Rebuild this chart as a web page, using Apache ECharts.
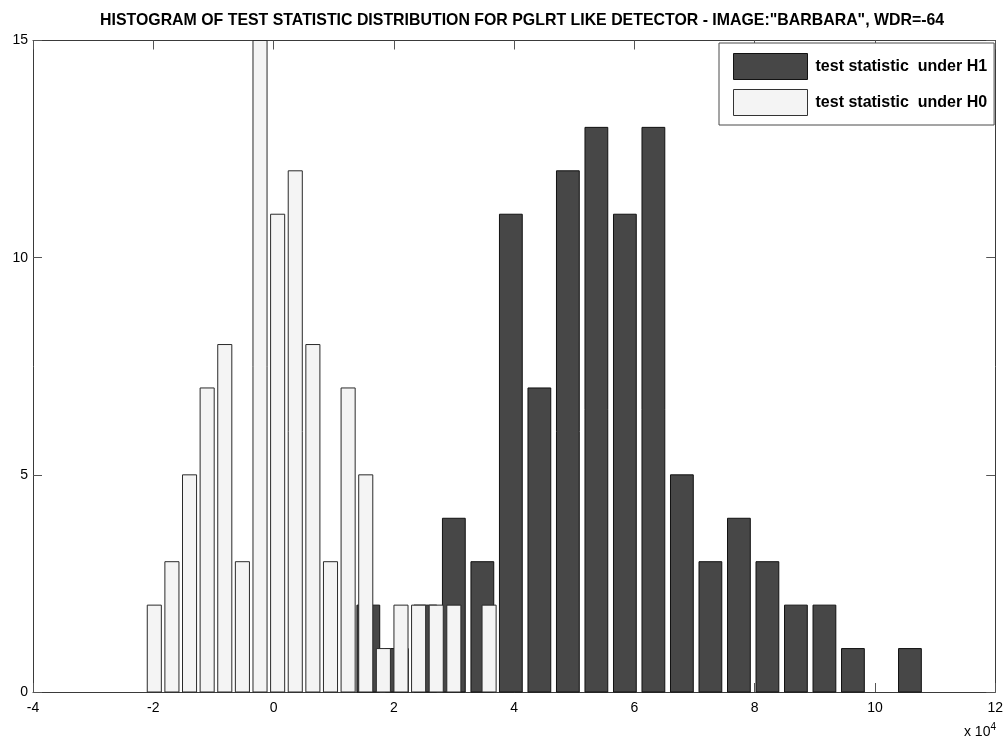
<!DOCTYPE html>
<html>
<head>
<meta charset="utf-8">
<script src="https://cdn.jsdelivr.net/npm/echarts@6/dist/echarts.min.js"></script>
<style>
html,body{margin:0;padding:0;background:#fff;}
#chart{width:1006px;height:740px;}
</style>
</head>
<body>
<div id="chart"></div>
<script>
// ---- data (x in units of 10^4) ----
const titleText = 'HISTOGRAM OF TEST STATISTIC DISTRIBUTION FOR PGLRT LIKE DETECTOR - IMAGE:"BARBARA", WDR=-64';
const seriesNames = ['test statistic  under H1', 'test statistic  under H0'];

const h1Centers = [1.576, 2.050, 2.524, 2.998, 3.472, 3.946, 4.420, 4.894, 5.368, 5.842,
                   6.316, 6.790, 7.264, 7.738, 8.212, 8.686, 9.160, 9.634, 10.108, 10.582];
const h1Counts  = [2, 1, 2, 4, 3, 11, 7, 12, 13, 11,
                   13, 5, 3, 4, 3, 2, 2, 1, 0, 1];

const h0Centers = [-1.983, -1.690, -1.397, -1.104, -0.811, -0.518, -0.225, 0.068, 0.361, 0.654,
                   0.947, 1.240, 1.533, 1.826, 2.119, 2.412, 2.705, 2.998, 3.291, 3.584];
const h0Counts  = [2, 3, 5, 7, 8, 3, 15, 11, 12, 8,
                   3, 7, 5, 1, 2, 2, 2, 2, 0, 2];

const h1BarWidth = 0.379;   // bar width in data units
const h0BarWidth = 0.234;

const xTicks = [-4, 12, 2];  // min, max, interval
const yTicks = [0, 15, 5];

// ---- chart ----
const chart = echarts.init(document.getElementById('chart'), null, {renderer: 'canvas'});

function pairs(cs, vs) { return cs.map((c, i) => [c, vs[i]]); }

function barRenderer(width, fill, stroke) {
  return function (params, api) {
    const c = api.value(0), v = api.value(1);
    if (!v) return null;
    const p0 = api.coord([c - width / 2, 0]);
    const p1 = api.coord([c + width / 2, v]);
    return {
      type: 'rect',
      shape: {x: p0[0], y: p1[1], width: p1[0] - p0[0], height: p0[1] - p1[1]},
      style: {fill: fill, stroke: stroke, lineWidth: 1}
    };
  };
}

const fontFam = '"Liberation Sans", Arial, Helvetica, sans-serif';
const axisColor = '#3a3a3a';

const commonX = {
  type: 'value', min: xTicks[0], max: xTicks[1], interval: xTicks[2],
  splitLine: {show: false},
  axisLine: {show: true, onZero: false, lineStyle: {color: axisColor, width: 1}},
  axisTick: {show: true, inside: true, length: 9, lineStyle: {color: '#555'}}
};
const commonY = {
  type: 'value', min: yTicks[0], max: yTicks[1], interval: yTicks[2],
  splitLine: {show: false},
  axisLine: {show: true, onZero: false, lineStyle: {color: axisColor, width: 1}},
  axisTick: {show: true, inside: true, length: 9, lineStyle: {color: '#555'}}
};

const option = {
  backgroundColor: '#ffffff',
  animation: false,
  grid: {left: 33, right: 9, top: 40.5, bottom: 48, containLabel: false},
  xAxis: [
    Object.assign({}, commonX, {
      position: 'bottom',
      axisLabel: {show: true, color: '#000', fontSize: 14, fontFamily: fontFam, margin: 9}
    }),
    Object.assign({}, commonX, {position: 'top', axisLabel: {show: false}})
  ],
  yAxis: [
    Object.assign({}, commonY, {
      position: 'left',
      axisLabel: {show: true, color: '#000', fontSize: 14, fontFamily: fontFam, margin: 5}
    }),
    Object.assign({}, commonY, {position: 'right', axisLabel: {show: false}})
  ],
  legend: {
    show: true,
    orient: 'vertical',
    left: 719, top: 43,
    padding: [10, 7, 9, 14],
    itemGap: 9,
    itemWidth: 74, itemHeight: 26,
    backgroundColor: '#ffffff',
    borderColor: '#4a4a4a', borderWidth: 1, borderRadius: 0,
    icon: 'rect',
    textStyle: {color: '#000', fontSize: 16, fontWeight: 'bold', fontFamily: fontFam, padding: [0, 0, 0, 3]},
    data: [
      {name: seriesNames[0], icon: 'rect', itemStyle: {color: '#474747', borderColor: '#111', borderWidth: 1}},
      {name: seriesNames[1], icon: 'rect', itemStyle: {color: '#f4f4f4', borderColor: '#333', borderWidth: 1}}
    ]
  },
  graphic: [
    {
      type: 'text', left: 100, top: 13,
      style: {text: titleText, fill: '#000', font: 'bold 15.9px ' + fontFam}
    },
    {
      type: 'text', right: 10, top: 722,
      style: {
        text: 'x 10{sup|4}', fill: '#000', font: '14px ' + fontFam,
        rich: {sup: {fontSize: 10, fontFamily: fontFam, verticalAlign: 'top', padding: [0, 0, 10, 0]}}
      }
    }
  ],
  series: [
    {
      name: seriesNames[0], type: 'custom', xAxisIndex: 0, yAxisIndex: 0,
      itemStyle: {color: '#474747', borderColor: '#111'},
      renderItem: barRenderer(h1BarWidth, '#474747', '#111111'),
      encode: {x: 0, y: 1},
      data: pairs(h1Centers, h1Counts), z: 2
    },
    {
      name: seriesNames[1], type: 'custom', xAxisIndex: 0, yAxisIndex: 0,
      itemStyle: {color: '#f4f4f4', borderColor: '#333'},
      renderItem: barRenderer(h0BarWidth, '#f4f4f4', '#2a2a2a'),
      encode: {x: 0, y: 1},
      data: pairs(h0Centers, h0Counts), z: 3
    }
  ]
};
chart.setOption(option);
</script>
</body>
</html>
